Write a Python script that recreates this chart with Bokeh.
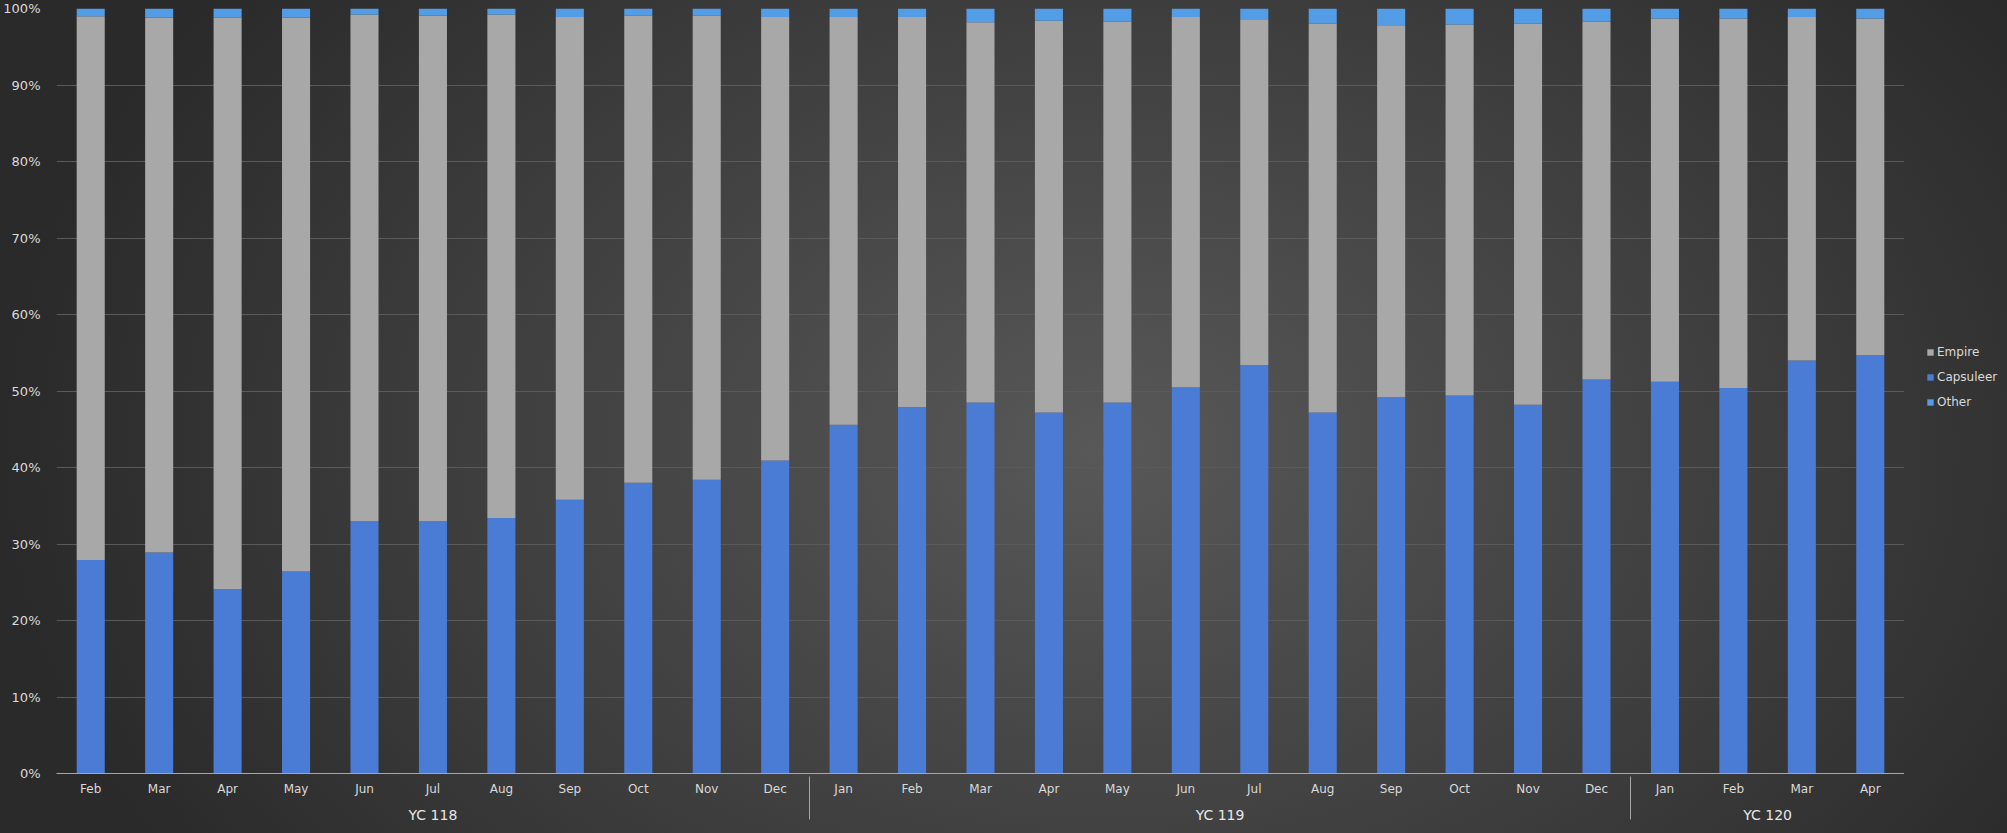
from bokeh.plotting import figure
from bokeh.layouts import row
from bokeh.models import (ColumnDataSource, FactorRange, Range1d, Legend, LegendItem,
                          PrintfTickFormatter, FixedTicker)
from bokeh.embed import file_html
from bokeh.resources import INLINE

# ---- data (percent shares) ----
years = ["YC 118"] * 11 + ["YC 119"] * 12 + ["YC 120"] * 4
months = ["Feb", "Mar", "Apr", "May", "Jun", "Jul", "Aug", "Sep", "Oct", "Nov", "Dec",
          "Jan", "Feb", "Mar", "Apr", "May", "Jun", "Jul", "Aug", "Sep", "Oct", "Nov", "Dec",
          "Jan", "Feb", "Mar", "Apr"]
capsuleer = [27.9, 28.9, 24.1, 26.4, 33.0, 33.0, 33.4, 35.8, 38.0, 38.4, 40.9,
             45.6, 47.9, 48.5, 47.2, 48.5, 50.5, 53.4, 47.2, 49.2, 49.4, 48.2, 51.5,
             51.2, 50.4, 54.0, 54.7]
empire = [71.1, 69.9, 74.7, 72.4, 66.2, 66.1, 65.8, 63.1, 61.1, 60.7, 58.0,
          53.3, 51.0, 49.7, 51.2, 49.8, 48.4, 45.1, 50.8, 48.5, 48.5, 49.8, 46.8,
          47.5, 48.3, 44.9, 44.0]
other = [1.0, 1.2, 1.2, 1.2, 0.8, 0.9, 0.8, 1.1, 0.9, 0.9, 1.1,
         1.1, 1.1, 1.8, 1.6, 1.7, 1.1, 1.5, 2.0, 2.3, 2.1, 2.0, 1.7,
         1.3, 1.3, 1.1, 1.3]
series = ["Capsuleer", "Empire", "Other"]
legend_order = ["Empire", "Capsuleer", "Other"]
y_ticks = [0, 10, 20, 30, 40, 50, 60, 70, 80, 90, 100]

FONT = "DejaVu Sans"
TEXT = "#d9d9d9"
LINE = "#a6a6a6"
colors = ["#4a7bd5", "#a8a8a8", "#529de6"]
H = 825

factors = list(zip(years, months))
src = ColumnDataSource(dict(x=factors, Capsuleer=capsuleer, Empire=empire, Other=other))

p = figure(x_range=FactorRange(*factors, range_padding=0, group_padding=0, factor_padding=0,
                               subgroup_padding=0),
           y_range=Range1d(0, 100),
           width=1904, height=H, output_backend="svg", toolbar_location=None,
           min_border_left=54, min_border_right=0, min_border_top=8, min_border_bottom=51)

p.background_fill_alpha = 0
p.border_fill_alpha = 0
p.outline_line_color = None

rs = p.vbar_stack(series, x="x", width=0.41, source=src, color=colors, line_color=None)

# grid
p.xgrid.grid_line_color = None
p.ygrid.grid_line_color = "#5a5a5a"
p.ygrid.grid_line_width = 1
p.ygrid.ticker = FixedTicker(ticks=y_ticks)

# y axis
ya = p.yaxis[0]
ya.ticker = FixedTicker(ticks=y_ticks)
ya.formatter = PrintfTickFormatter(format="%d%%")
ya.axis_label = None
ya.axis_line_color = None
ya.major_tick_line_color = None
ya.minor_tick_line_color = None
ya.major_label_text_font = FONT
ya.major_label_text_font_size = "13px"
ya.major_label_text_color = TEXT
ya.major_label_standoff = 10

# x axis
xa = p.xaxis[0]
xa.axis_label = None
xa.axis_label_standoff = 0
xa.axis_line_color = LINE
xa.axis_line_width = 1
xa.major_tick_line_color = None
xa.minor_tick_line_color = None
xa.major_tick_out = 0
xa.major_tick_in = 0
xa.major_label_text_font = FONT
xa.major_label_text_font_size = "12px"
xa.major_label_text_color = TEXT
xa.major_label_standoff = 8
xa.group_text_font = FONT
xa.group_text_font_size = "14px"
xa.group_text_font_style = "normal"
xa.group_text_color = "#e6e6e6"
xa.separator_line_color = LINE
xa.separator_line_width = 1

# ---- legend panel (separate narrow canvas to the right of the plot area) ----
lp = figure(width=95, height=H, output_backend="svg", toolbar_location=None,
            x_range=Range1d(0, 1), y_range=Range1d(0, 1),
            min_border_left=0, min_border_right=0, min_border_top=0, min_border_bottom=0)
lp.background_fill_alpha = 0
lp.border_fill_alpha = 0
lp.outline_line_color = None
lp.axis.visible = False
lp.grid.visible = False
hidden = ColumnDataSource(dict(x=[-10], top=[0]))
dummy = {}
for name, col in zip(series, colors):
    dummy[name] = lp.vbar(x="x", top="top", width=0.5, source=hidden, color=col, line_color=None)

legend = Legend(items=[LegendItem(label=name, renderers=[dummy[name]], index=0) for name in legend_order],
                location=(22, 361), orientation="vertical",
                background_fill_alpha=0, border_line_color=None,
                padding=0, margin=0, spacing=5, label_height=20,
                glyph_height=8, glyph_width=8, label_standoff=3,
                label_text_font=FONT, label_text_font_size="12px", label_text_color=TEXT)
lp.add_layout(legend)

layout = row(p, lp, spacing=0)

template = """
{% block postamble %}
<style>
html { height: 100%; overflow: hidden; background: #2a2a2a radial-gradient(ellipse 1100px 760px at 55% 54%, #585858 0%, #3d3d3d 60%, #2a2a2a 100%) no-repeat; }
body { background: transparent; overflow: hidden; }
</style>
{% endblock %}
"""

open("out.html", "w").write(file_html(layout, INLINE, template=template))
